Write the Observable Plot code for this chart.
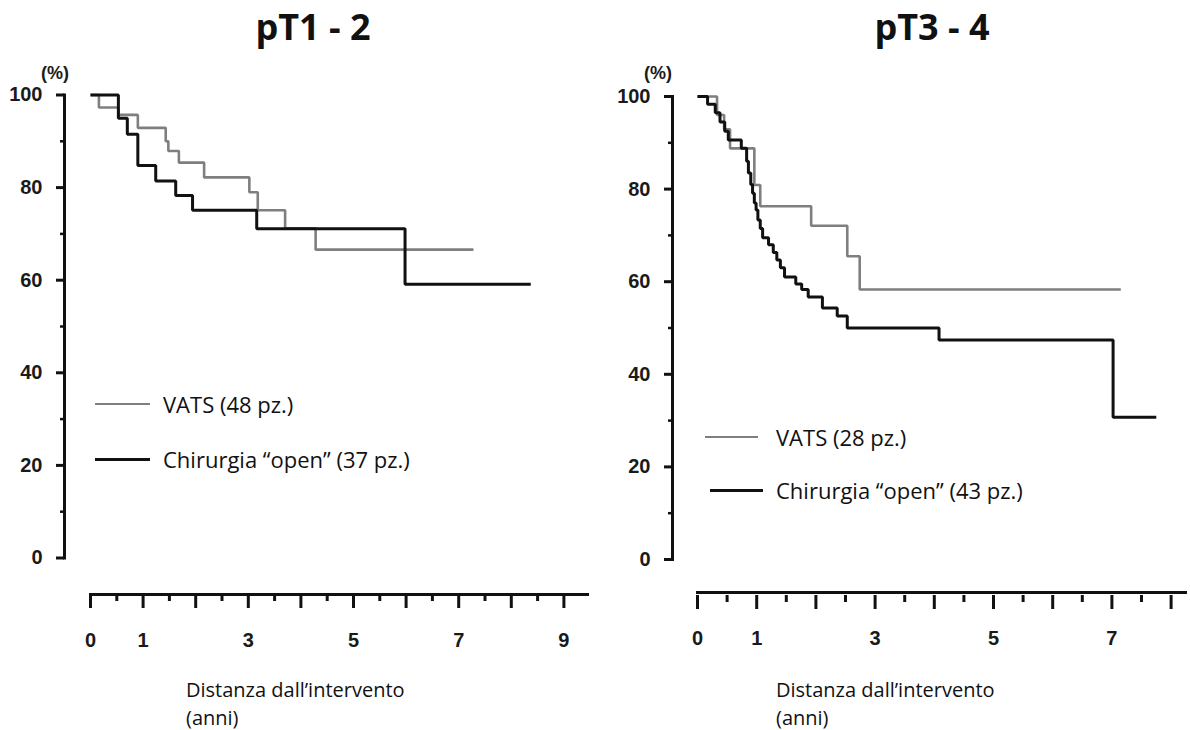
<!DOCTYPE html>
<html><head><meta charset="utf-8">
<script src="https://cdn.jsdelivr.net/npm/d3@7"></script>
<script src="https://cdn.jsdelivr.net/npm/@observablehq/plot@0.6"></script>
<style>
html,body{margin:0;padding:0;background:#fff;}
body{width:1190px;height:730px;position:relative;overflow:hidden;font-family:"Open Sans",sans-serif;color:#111;}
.panel{position:absolute;top:0;}
.title{position:absolute;top:7px;font-weight:700;font-size:36px;line-height:40px;transform:translateX(-50%);white-space:nowrap;}
.pct{position:absolute;font-family:"Liberation Sans",Arial,sans-serif;font-weight:700;font-size:18px;line-height:20px;transform:translateY(-50%);color:#1a1a1a;}
.leg{position:absolute;font-size:22px;line-height:26px;transform:translateY(-50%);white-space:nowrap;}
.sw{position:absolute;height:0;}
.cap{position:absolute;font-size:20px;line-height:28px;white-space:nowrap;}
</style></head><body>
<div id="left" class="panel" style="left:0;width:595px;height:660px"></div>
<div id="right" class="panel" style="left:600px;width:590px;height:660px"></div>
<div id="overlay"></div>
<script>
// ---- data (years, % survival) ----
const panelTitles = ["pT1 - 2", "pT3 - 4"];
const seriesNames = ["VATS", "Chirurgia \u201copen\u201d"];
const patientsLeft = [48, 37];
const patientsRight = [28, 43];

const vatsT12_time = [0, 0.16, 0.53, 0.90, 1.43, 1.48, 1.68, 2.16, 3.02, 3.18, 3.70, 4.28, 7.28];
const vatsT12_surv = [100, 97.3, 95.7, 92.9, 90.0, 87.9, 85.4, 82.2, 79.0, 75.1, 71.2, 66.6, 66.6];
const openT12_time = [0, 0.53, 0.70, 0.90, 1.24, 1.62, 1.94, 3.16, 5.98, 8.37];
const openT12_surv = [100, 95.0, 91.5, 84.8, 81.4, 78.3, 75.1, 71.1, 59.1, 59.1];

const vatsT34_time = [0, 0.33, 0.45, 0.55, 0.96, 1.06, 1.92, 2.53, 2.74, 7.15];
const vatsT34_surv = [100, 96.0, 92.9, 88.8, 80.9, 76.3, 72.1, 65.5, 58.3, 58.3];
const openT34_time = [0, 0.17, 0.30, 0.38, 0.46, 0.52, 0.74, 0.83, 0.86, 0.90, 0.93, 0.96, 0.99, 1.02, 1.06, 1.10, 1.20, 1.28, 1.34, 1.40, 1.47, 1.66, 1.76, 1.87, 2.11, 2.36, 2.53, 4.08, 7.02, 7.75];
const openT34_surv = [100, 98.3, 96.5, 94.5, 92.5, 90.6, 88.8, 86.0, 83.5, 81.0, 79.1, 77.0, 75.5, 73.3, 71.5, 69.5, 68.0, 66.3, 64.7, 63.0, 61.0, 59.5, 58.3, 56.7, 54.3, 52.6, 50.0, 47.4, 30.7, 30.7];

const yMajorTicks = [0, 20, 40, 60, 80, 100];
const yMinorTicks = [10, 30, 50, 70, 90];
const xLabelsLeft = [0, 1, 3, 5, 7, 9];
const xLabelsRight = [0, 1, 3, 5, 7];
const xMaxLeft = 9, xMaxRight = 8;

const colors = {VATS: "#7f7f7f", open: "#111111"};

function rows(time, surv, g) { return time.map((t, i) => ({t, s: surv[i], g})); }

function makePanel(cfg) {
  const H = 660;
  const data = [...rows(cfg.vT, cfg.vS, "VATS"), ...rows(cfg.oT, cfg.oS, "open")];
  const major = d3.range(0, cfg.maxTick + 1);
  const minor = d3.range(0, cfg.maxTick).map(d => d + 0.5);
  return Plot.plot({
    width: cfg.width, height: H,
    marginLeft: cfg.axisX, marginTop: cfg.y100, marginRight: cfg.width - cfg.lineEnd, marginBottom: H - cfg.xAxisY,
    x: {domain: [0, cfg.maxTick], range: [cfg.x0, cfg.x0 + cfg.ppy * cfg.maxTick], label: null},
    y: {domain: [0, 100], range: [cfg.y0, cfg.y100], label: null},
    style: {fontFamily: "'Liberation Sans', Arial, sans-serif", fontSize: "20px", fontWeight: "bold", color: "#1a1a1a", background: "transparent", overflow: "visible"},
    marks: [
      Plot.frame({anchor: "left", insetBottom: cfg.xAxisY - cfg.y0, stroke: "#111", strokeWidth: 3}),
      Plot.frame({anchor: "bottom", insetLeft: cfg.x0 - cfg.axisX, stroke: "#111", strokeWidth: 3}),
      Plot.axisY({ticks: yMajorTicks, tickSize: 8, tickPadding: 14, strokeWidth: 3, stroke: "#111", tickFormat: d => d, label: null, fontSize: 20}),
      Plot.axisY({ticks: yMinorTicks, tickSize: 4, text: null, strokeWidth: 2.5, stroke: "#111", label: null}),
      Plot.axisX({ticks: major, tickSize: 14, text: null, strokeWidth: 3, stroke: "#111", dy: cfg.tickGap, label: null}),
      Plot.axisX({ticks: minor, tickSize: 7, text: null, strokeWidth: 3, stroke: "#111", dy: cfg.tickGap, label: null}),
      Plot.axisX({ticks: cfg.labels, tickSize: 0, tickPadding: 38, strokeWidth: 0, tickFormat: d => d, label: null, fontSize: 20}),
      Plot.line(data, {x: "t", y: "s", z: "g", stroke: d => colors[d.g], strokeWidth: d => d.g === "VATS" ? 2.6 : 3, curve: "step-after", strokeLinejoin: "miter", strokeLinecap: "butt"})
    ]
  });
}

document.getElementById("left").append(makePanel({
  width: 595, axisX: 64, x0: 90, ppy: 52.6, maxTick: xMaxLeft, lineEnd: 587,
  y100: 94.5, y0: 557.5, xAxisY: 594, tickGap: 0, labels: xLabelsLeft,
  vT: vatsT12_time, vS: vatsT12_surv, oT: openT12_time, oS: openT12_surv
}));
document.getElementById("right").append(makePanel({
  width: 590, axisX: 72, x0: 97, ppy: 59.2, maxTick: xMaxRight, lineEnd: 585,
  y100: 96, y0: 559, xAxisY: 592, tickGap: 3, labels: xLabelsRight,
  vT: vatsT34_time, vS: vatsT34_surv, oT: openT34_time, oS: openT34_surv
}));

// ---- titles, legends, captions ----
const ov = document.getElementById("overlay");
function add(html) { ov.insertAdjacentHTML("beforeend", html); }
add(`<div class="title" style="left:313px">${panelTitles[0]}</div>`);
add(`<div class="title" style="left:932px">${panelTitles[1]}</div>`);
add(`<div class="pct" style="left:41px;top:73px">(%)</div>`);
add(`<div class="pct" style="left:644px;top:73px">(%)</div>`);

function legend(x0, x1, xt, yV, yO, counts, sx) {
  add(`<div class="sw" style="left:${x0}px;width:${x1 - x0}px;top:${yV - 1.3}px;border-top:2.6px solid ${colors.VATS}"></div>`);
  add(`<div class="leg" style="left:${xt}px;top:${yV}px">${seriesNames[0]} (${counts[0]} pz.)</div>`);
  add(`<div class="sw" style="left:${x0 + sx}px;width:${x1 - x0}px;top:${yO - 1.5}px;border-top:3px solid ${colors.open}"></div>`);
  add(`<div class="leg" style="left:${xt}px;top:${yO}px">${seriesNames[1]} (${counts[1]} pz.)</div>`);
}
legend(95, 150, 163, 404, 459, patientsLeft, 0);
legend(705, 758, 776, 437, 490, patientsRight, 5);

add(`<div class="cap" style="left:186px;top:676px">Distanza dall\u2019intervento<br>(anni)</div>`);
add(`<div class="cap" style="left:776px;top:676px">Distanza dall\u2019intervento<br>(anni)</div>`);
</script>
</body></html>
